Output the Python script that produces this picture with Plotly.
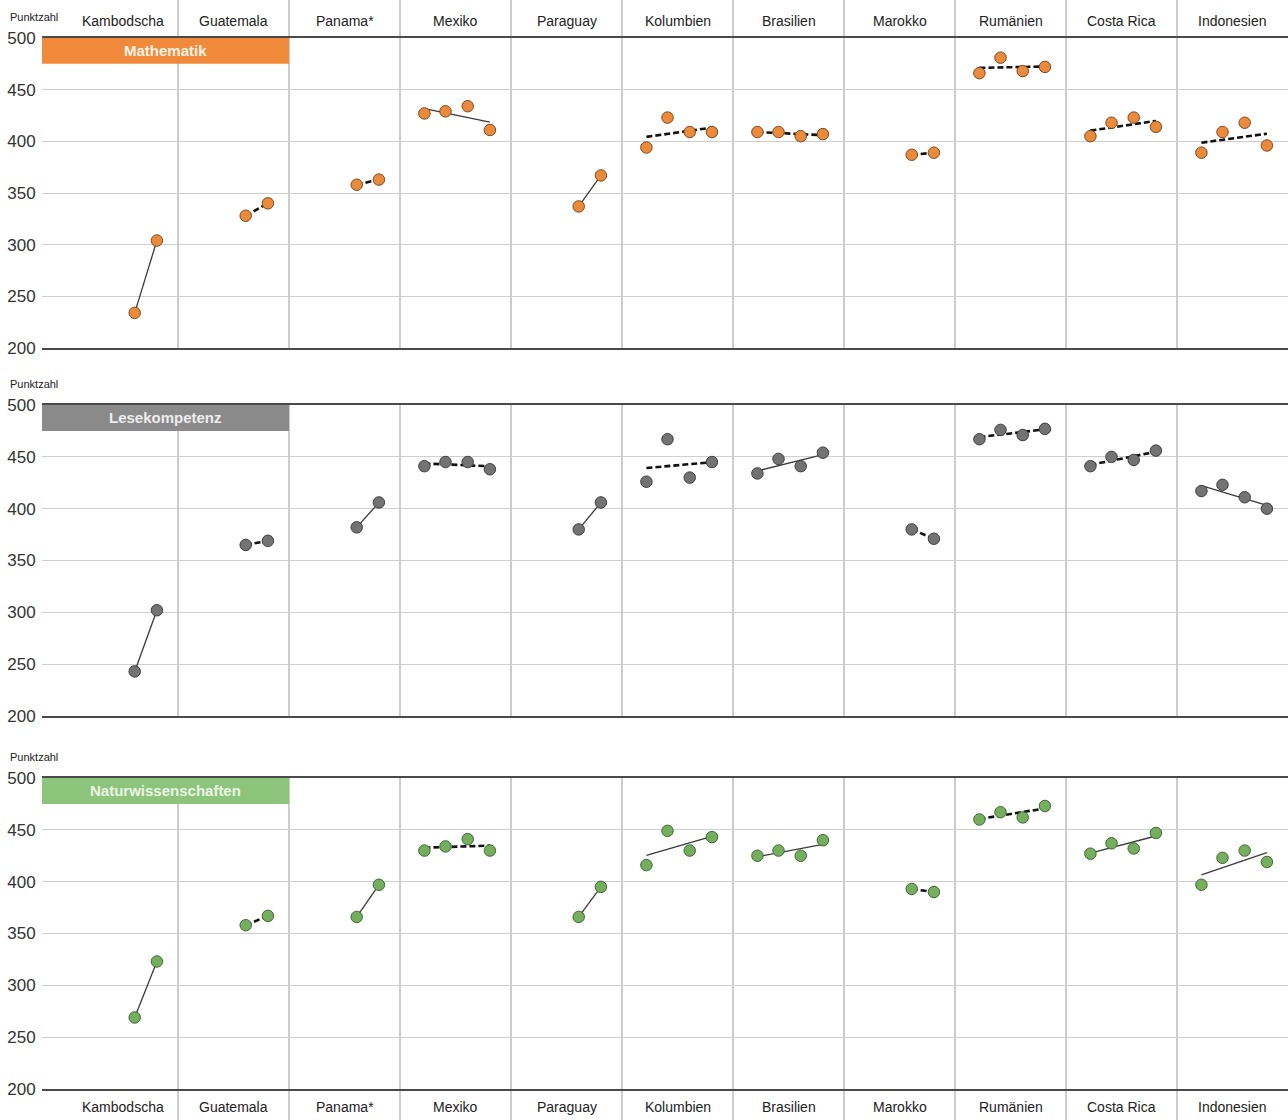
import numpy as np
import plotly.graph_objects as go

# ---------------- data ----------------
countries = ["Kambodscha", "Guatemala", "Panama*", "Mexiko", "Paraguay", "Kolumbien",
             "Brasilien", "Marokko", "Rumänien", "Costa Rica", "Indonesien"]

# four measurement slots per country (None = no value)
math_scores = [
    [None, None, 234, 304],
    [None, None, 328, 340],
    [None, None, 358, 363],
    [427, 429, 434, 411],
    [None, None, 337, 367],
    [394, 423, 409, 409],
    [409, 409, 405, 407],
    [None, None, 387, 389],
    [466, 481, 468, 472],
    [405, 418, 423, 414],
    [389, 409, 418, 396],
]
reading_scores = [
    [None, None, 243, 302],
    [None, None, 365, 369],
    [None, None, 382, 406],
    [441, 445, 445, 438],
    [None, None, 380, 406],
    [426, 467, 430, 445],
    [434, 448, 441, 454],
    [None, None, 380, 371],
    [467, 476, 471, 477],
    [441, 450, 447, 456],
    [417, 423, 411, 400],
]
science_scores = [
    [None, None, 269, 323],
    [None, None, 358, 367],
    [None, None, 366, 397],
    [430, 434, 441, 430],
    [None, None, 366, 395],
    [416, 449, 430, 443],
    [425, 430, 425, 440],
    [None, None, 393, 390],
    [460, 467, 462, 473],
    [427, 437, 432, 447],
    [397, 423, 430, 419],
]
# True = significant trend (solid line), False = not significant (dashed line)
math_significant = [True, False, False, True, True, False, False, False, False, False, False]
reading_significant = [True, False, True, False, True, False, True, False, False, False, True]
science_significant = [True, False, True, False, True, True, True, False, False, True, True]

subject_names = ["Mathematik", "Lesekompetenz", "Naturwissenschaften"]
y_ticks = [200, 250, 300, 350, 400, 450, 500]
axis_title = "Punktzahl"

# ---------------- styling / layout ----------------
W, H = 1288, 1120
LEFT = 42
SLOT_OFFSETS = [-0.28, -0.09, 0.11, 0.31]
COL_W_PX = 111.0
LEFT_EXTRA = 25
X_MIN = -0.5 - LEFT_EXTRA / COL_W_PX
X_MAX = len(countries) - 0.5

panels_px = [(38, 348), (405, 716), (778, 1089)]
vline_px = [(0, 348), (405, 716), (778, H)]
marker_fill = ["#EC8A3C", "#737373", "#74AE5E"]
marker_line = ["#7A4A22", "#3E3E3E", "#3F6A33"]
banner_fill = ["#F08A3A", "#8A8A8A", "#8DC47C"]
banner_text = ["#FFF3E6", "#EDEDED", "#EAF5E4"]
FONT = "Arial, Liberation Sans, sans-serif"


def py(p):
    return 1 - p / H


datasets = [
    (math_scores, math_significant),
    (reading_scores, reading_significant),
    (science_scores, science_significant),
]

fig = go.Figure()
shapes = []
annotations = []

for i, (scores, sig) in enumerate(datasets):
    xa = "x" if i == 0 else f"x{i + 1}"
    ya = "y" if i == 0 else f"y{i + 1}"
    solid_x, solid_y, dash_x, dash_y = [], [], [], []
    mx, my = [], []
    for c, vals in enumerate(scores):
        xs = [c + SLOT_OFFSETS[s] for s, v in enumerate(vals) if v is not None]
        ys = [v for v in vals if v is not None]
        mx += xs
        my += ys
        if len(ys) > 2:
            coef = np.polyfit(xs, ys, 1)
            lx = [xs[0], xs[-1]]
            ly = [float(np.polyval(coef, xs[0])), float(np.polyval(coef, xs[-1]))]
        else:
            lx, ly = xs, ys
        if sig[c]:
            solid_x += lx + [None]
            solid_y += ly + [None]
        else:
            dash_x += lx + [None]
            dash_y += ly + [None]
    fig.add_trace(go.Scatter(x=solid_x, y=solid_y, mode="lines", xaxis=xa, yaxis=ya,
                             line=dict(color="#3a3a3a", width=1.3), hoverinfo="skip",
                             showlegend=False))
    fig.add_trace(go.Scatter(x=dash_x, y=dash_y, mode="lines", xaxis=xa, yaxis=ya,
                             line=dict(color="#111111", width=2.6, dash="6px,3px"),
                             hoverinfo="skip", showlegend=False))
    fig.add_trace(go.Scatter(x=mx, y=my, mode="markers", xaxis=xa, yaxis=ya,
                             marker=dict(size=11.5, color=marker_fill[i],
                                         line=dict(color=marker_line[i], width=1)),
                             showlegend=False, name=subject_names[i]))

    top, bot = panels_px[i]
    dom = [py(bot), py(top)]
    xkey = "xaxis" if i == 0 else f"xaxis{i + 1}"
    ykey = "yaxis" if i == 0 else f"yaxis{i + 1}"
    fig.update_layout(**{
        xkey: dict(range=[X_MIN, X_MAX], domain=[0, 1], anchor=ya, showgrid=False,
                   zeroline=False, showticklabels=False, showline=True, mirror=True,
                   linecolor="#4a4a4a", linewidth=1.6, ticks="", automargin=False),
        ykey: dict(range=[200, 500], domain=dom, anchor=xa, tickvals=y_ticks,
                   ticktext=[str(t) for t in y_ticks], showgrid=True,
                   gridcolor="#cfcfcf", gridwidth=1, zeroline=False, showline=False,
                   ticks="outside", ticklen=2, tickcolor="rgba(0,0,0,0)",
                   automargin=False,
                   tickfont=dict(size=17, color="#333333", family=FONT)),
    })

    # column separators
    v0, v1 = vline_px[i]
    for c in range(len(countries) - 1):
        shapes.append(dict(type="line", xref=xa, yref="paper", x0=c + 0.5, x1=c + 0.5,
                           y0=py(v1), y1=py(v0), line=dict(color="#9a9a9a", width=1),
                           layer="below"))
    # subject banner
    shapes.append(dict(type="rect", xref=xa, yref=ya, x0=X_MIN, x1=1.5, y0=475, y1=500,
                       fillcolor=banner_fill[i], line=dict(width=0), layer="above"))
    annotations.append(dict(text=f"<b>{subject_names[i]}</b>", xref=xa, yref=ya,
                            x=(X_MIN + 1.5) / 2, y=487.5, showarrow=False,
                            font=dict(size=15, color=banner_text[i], family=FONT)))
    # axis title
    annotations.append(dict(text=axis_title, xref="paper", yref="paper",
                            x=-LEFT / (W - LEFT) + 8 / (W - LEFT), xanchor="left",
                            y=py(top - 21), yanchor="middle", showarrow=False,
                            font=dict(size=11, color="#222222", family=FONT)))

# country labels top and bottom
for c, name in enumerate(countries):
    annotations.append(dict(text=name, xref="x", yref="paper", x=c, y=py(21),
                            showarrow=False, yanchor="middle",
                            font=dict(size=14, color="#222222", family=FONT)))
    annotations.append(dict(text=name, xref="x3", yref="paper", x=c, y=py(1107),
                            showarrow=False, yanchor="middle",
                            font=dict(size=14, color="#222222", family=FONT)))

fig.update_layout(width=W, height=H, margin=dict(l=LEFT, r=0, t=0, b=0, pad=0),
                  paper_bgcolor="white", plot_bgcolor="white",
                  shapes=shapes, annotations=annotations, showlegend=False,
                  font=dict(family=FONT))

fig.write_html("out.html",
               config={"displayModeBar": False},
               post_script="document.body.style.margin='0';"
                           "document.body.style.overflow='hidden';")
